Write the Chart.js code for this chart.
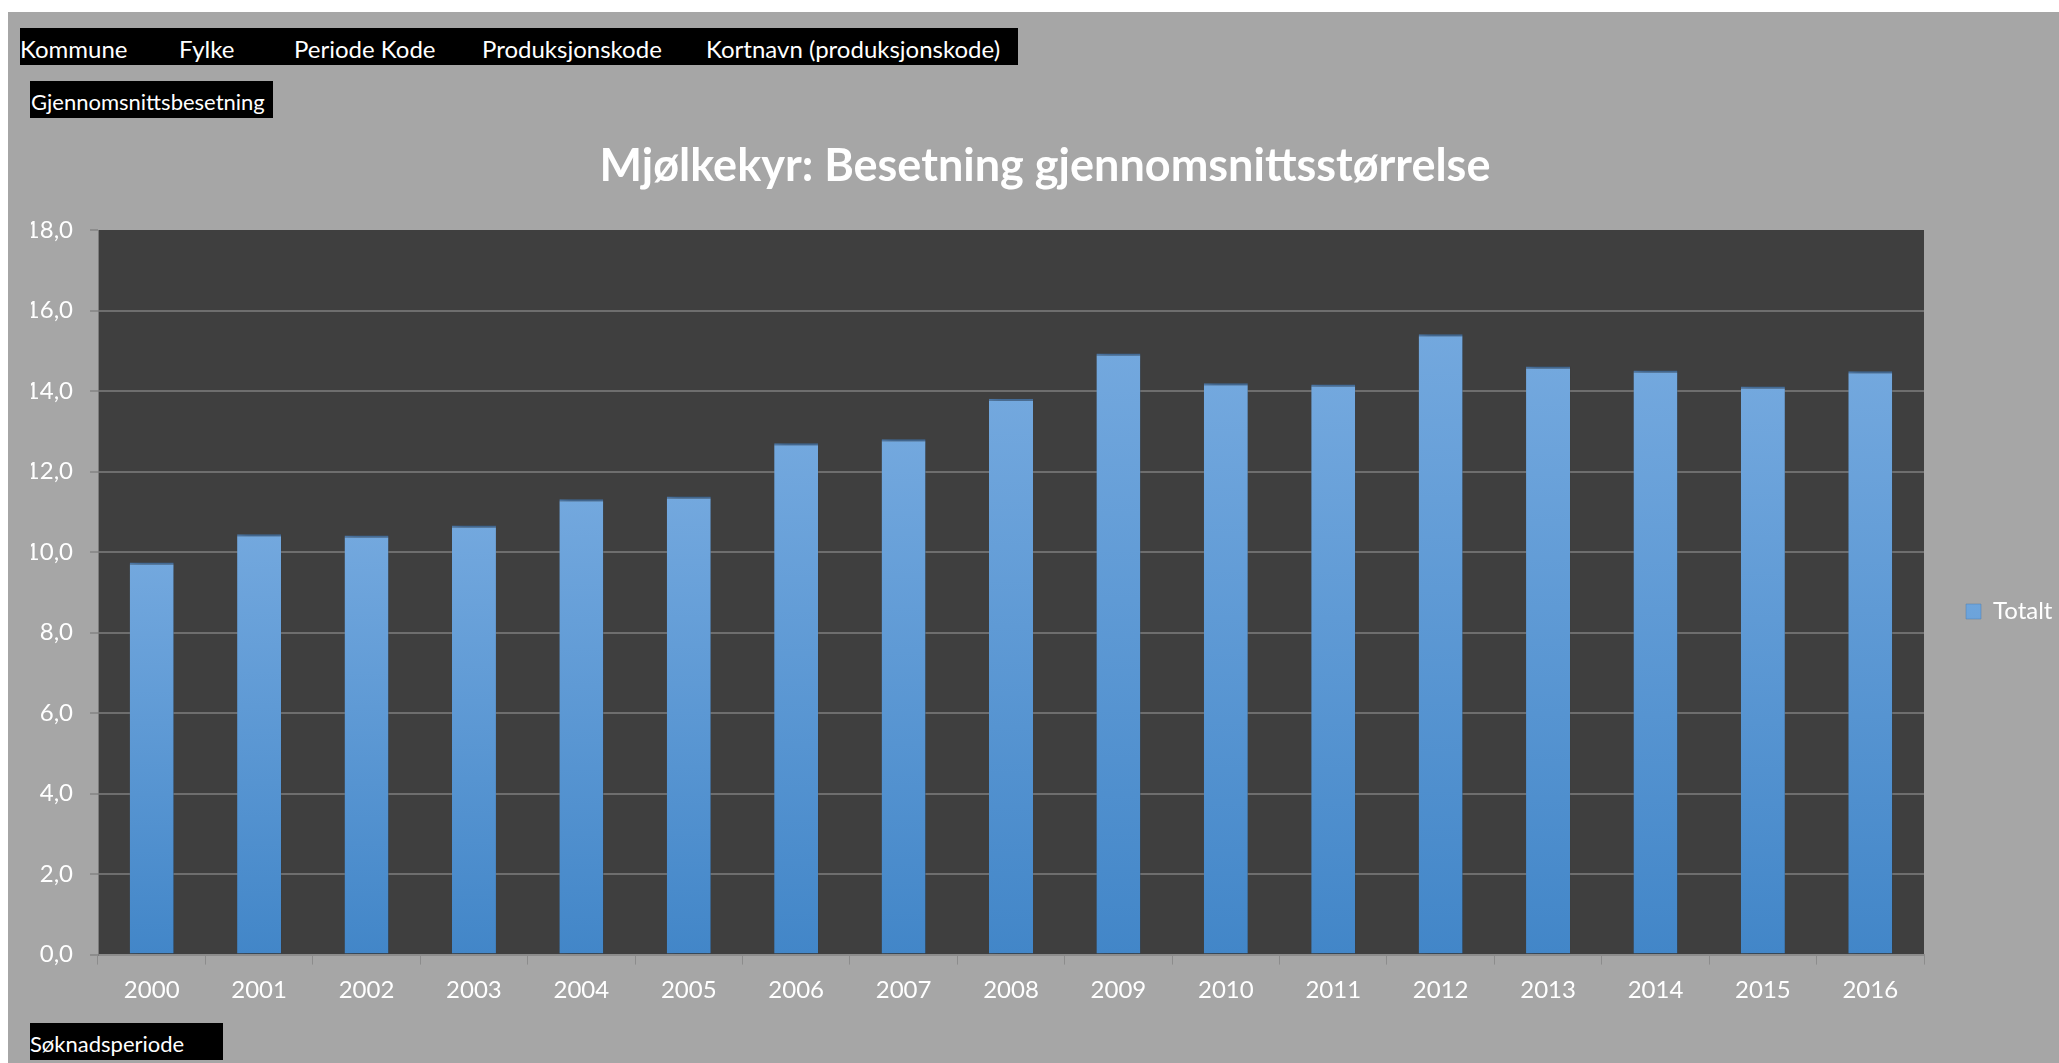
<!DOCTYPE html>
<html><head><meta charset="utf-8">
<script src="https://cdn.jsdelivr.net/npm/chart.js@4/dist/chart.umd.min.js"></script>
<style>
html,body{margin:0;padding:0;background:#fff;width:2059px;height:1063px;overflow:hidden;font-family:Lato,sans-serif;}
#bg{position:absolute;left:8px;top:12px;right:0;bottom:0;background:#a6a6a6;}
#wrap{position:absolute;left:0;top:0;width:2059px;height:1063px;}
.btn{position:absolute;background:#000;color:#fff;font-size:22px;height:37px;line-height:37px;}
.btn span{position:absolute;top:2px;white-space:nowrap;}
</style></head>
<body>
<div id="bg"></div>
<div id="filters" class="btn" style="left:20px;top:28px;width:998px;font-size:24px;"></div>
<div class="btn" style="left:30px;top:81px;width:243px;font-size:22px;"><span style="left:1px">Gjennomsnittsbesetning</span></div>
<div class="btn" style="left:30px;top:1023px;width:193px;font-size:22px;"><span style="left:0px">Søknadsperiode</span></div>
<div id="wrap"><canvas id="c" width="2059" height="1063"></canvas></div>
<script>
const filterLabels = ['Kommune', 'Fylke', 'Periode Kode', 'Produksjonskode', 'Kortnavn (produksjonskode)'];
const filterLeft = [0, 159, 274, 462, 686];
const categories = ['2000','2001','2002','2003','2004','2005','2006','2007','2008','2009','2010','2011','2012','2013','2014','2015','2016'];
const totalt = [9.74, 10.44, 10.41, 10.66, 11.31, 11.38, 12.70, 12.80, 13.81, 14.93, 14.19, 14.16, 15.41, 14.61, 14.51, 14.11, 14.49];
const seriesName = 'Totalt';
const chartTitle = 'Mjølkekyr: Besetning gjennomsnittsstørrelse';
const yMin = 0, yMax = 18, yStep = 2;

const f = document.getElementById('filters');
filterLabels.forEach((t, i) => {
  const s = document.createElement('span');
  s.textContent = t; s.style.left = filterLeft[i] + 'px';
  f.appendChild(s);
});

function barFill(ctx) {
  const chart = ctx.chart;
  if (ctx.type !== 'data' || !chart.chartArea || !chart.scales.y) return '#5c9ad8';
  const y = chart.scales.y;
  const top = y.getPixelForValue(ctx.parsed ? ctx.parsed.y : ctx.raw);
  const bottom = y.getPixelForValue(0);
  if (!isFinite(top) || !isFinite(bottom) || top === bottom) return '#5c9ad8';
  const g = chart.ctx.createLinearGradient(0, top, 0, bottom);
  g.addColorStop(0, '#73a8de');
  g.addColorStop(1, '#4286c8');
  return g;
}

const plotBg = {
  id: 'plotBg',
  beforeDraw(chart) {
    const {ctx, chartArea: a} = chart;
    ctx.save();
    ctx.fillStyle = '#3f3f3f';
    ctx.fillRect(a.left, a.top, a.right - a.left, a.bottom - a.top);
    ctx.restore();
  }
};
const barShadow = {
  id: 'barShadow',
  beforeDatasetsDraw(chart) {
    const c = chart.ctx;
    c.save();
    c.shadowColor = 'rgba(0,0,0,0.55)';
    c.shadowBlur = 10;
    c.shadowOffsetX = 4;
    c.shadowOffsetY = 2;
  },
  afterDatasetsDraw(chart) { chart.ctx.restore(); }
};

new Chart(document.getElementById('c'), {
  type: 'bar',
  data: {
    labels: categories,
    datasets: [{
      label: seriesName,
      data: totalt,
      backgroundColor: barFill,
      borderColor: '#4f7cad',
      borderWidth: {top: 2, left: 0, right: 0, bottom: 0},
      borderSkipped: 'bottom',
      barPercentage: 0.41,
      categoryPercentage: 1.0
    }]
  },
  options: {
    responsive: false,
    animation: false,
    layout: {padding: {left: 31, right: 0, top: 0, bottom: 0}},
    plugins: {
      title: {
        display: true,
        text: chartTitle,
        color: '#ffffff',
        font: {family: 'Lato', size: 45, weight: 'bold'},
        padding: {top: 139, bottom: 37}
      },
      legend: {
        display: true,
        position: 'right',
        fullSize: false,
        maxWidth: 135,
        title: {display: true, text: '', font: {family: 'Lato', size: 32}, padding: 0},
        labels: {
          color: '#ffffff',
          font: {family: 'Lato', size: 24},
          boxWidth: 15,
          boxHeight: 15,
          padding: 42
        }
      },
      tooltip: {enabled: false}
    },
    scales: {
      x: {
        grid: {offset: true, drawOnChartArea: false, drawTicks: true, tickLength: 10, color: '#8c8c8c', lineWidth: 1},
        border: {display: true, color: '#8c8c8c', width: 2},
        ticks: {color: '#ffffff', font: {family: 'Lato', size: 24}, padding: 11, maxRotation: 0, autoSkip: false},
        afterFit(s) { s.height = 108.4; }
      },
      y: {
        min: yMin, max: yMax,
        ticks: {
          stepSize: yStep, color: '#ffffff', font: {family: 'Lato', size: 24}, padding: 17,
          callback: v => Number(v).toFixed(1).replace('.', ',')
        },
        grid: {
          color: c => (c.tick && c.tick.value === yMax) ? 'rgba(0,0,0,0)' : '#6e6e6e',
          tickColor: '#8c8c8c',
          lineWidth: 2, tickLength: 8, drawTicks: true
        },
        border: {display: true, color: '#7c7c7c', width: 1},
        afterFit(s) { s.width = 67; }
      }
    }
  },
  plugins: [plotBg, barShadow]
});
</script>
</body></html>
